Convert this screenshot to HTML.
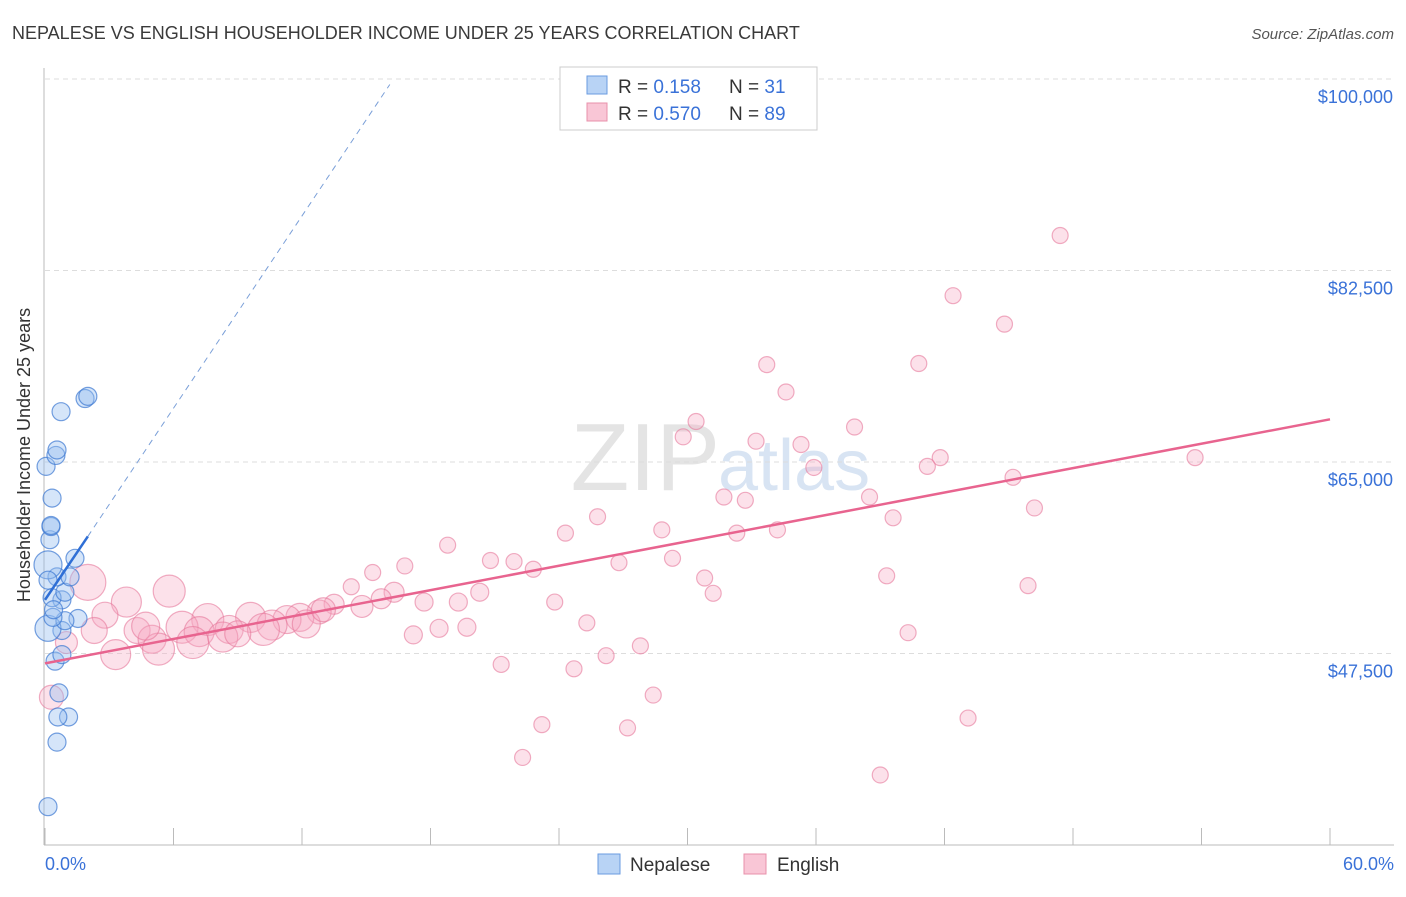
<!DOCTYPE html>
<html><head><meta charset="utf-8"><style>
body{margin:0;background:#fff;font-family:"Liberation Sans",sans-serif}
svg text{font-family:"Liberation Sans",sans-serif}
</style></head><body>
<svg id="c" width="1406" height="892">
<text x="12" y="39" font-size="18" fill="#3a3a3a">NEPALESE VS ENGLISH HOUSEHOLDER INCOME UNDER 25 YEARS CORRELATION CHART</text>
<text x="1394" y="39" font-size="15" fill="#555" text-anchor="end" font-style="italic">Source: ZipAtlas.com</text>
<text x="720" y="490" font-size="96" fill="#e4e4e4" text-anchor="end" font-family="Liberation Serif">ZIP</text>
<text x="718" y="490" font-size="72" fill="#d8e4f3">atlas</text>
<g id="grid"></g><g id="axes"></g><g id="pts"></g><g id="lines"></g>
<text x="30" y="455" font-size="18" fill="#333" text-anchor="middle" transform="rotate(-90 30 455)">Householder Income Under 25 years</text>
<text x="45" y="870" font-size="18" fill="#3a72d8">0.0%</text>
<text x="1394" y="870" font-size="18" fill="#3a72d8" text-anchor="end">60.0%</text>
<g>
<rect x="560" y="67" width="257" height="63" fill="#fff" stroke="#ccc"/>
<rect x="587" y="76" width="20" height="18" fill="#b8d3f5" stroke="#6a9be0"/>
<rect x="587" y="103" width="20" height="18" fill="#f9c6d6" stroke="#e890ab"/>
<text x="618" y="93" font-size="19" fill="#333">R = <tspan fill="#3a72d8">0.158</tspan><tspan x="729">N = </tspan><tspan fill="#3a72d8">31</tspan></text>
<text x="618" y="120" font-size="19" fill="#333">R = <tspan fill="#3a72d8">0.570</tspan><tspan x="729">N = </tspan><tspan fill="#3a72d8">89</tspan></text>
</g>
<g>
<rect x="598" y="854" width="22" height="20" fill="#b8d3f5" stroke="#6a9be0"/>
<text x="630" y="871" font-size="19" fill="#333">Nepalese</text>
<rect x="744" y="854" width="22" height="20" fill="#f9c6d6" stroke="#e890ab"/>
<text x="777" y="871" font-size="19" fill="#333">English</text>
</g>
</svg>
<script>
const yTicks=[47500,65000,82500,100000];
const yTickLabels=["$47,500","$65,000","$82,500","$100,000"];
const xTicks=[0,6,12,18,24,30,36,42,48,54,60];
const nepX=[0.14,0.56,1.1,0.6,0.65,0.47,0.79,0.79,0.14,1.54,0.93,0.37,0.79,0.33,0.93,0.56,1.17,0.14,1.4,0.23,0.28,0.28,0.33,0.05,0.51,0.56,0.75,1.87,2.0,0.14,0.4];
const nepY=[33.5,39.4,41.7,41.7,43.9,46.8,47.4,49.6,49.8,50.7,50.5,50.8,52.4,52.6,53.1,54.5,54.5,55.6,56.2,57.9,59.1,59.2,61.7,64.6,65.6,66.1,69.6,70.8,71.0,54.2,51.5];
const nepR=[9,9,9,9,9,9,9,9,13,9,9,9,9,9,9,9,9,14,9,9,9,9,9,9,9,9,9,9,9,9,9];
const engX=[47.4,42.4,44.8,40.8,33.7,34.6,30.4,37.8,29.8,33.2,35.3,41.8,41.2,35.9,53.7,45.2,31.7,38.5,32.7,46.2,39.6,25.8,28.8,34.2,24.3,32.3,18.8,29.3,20.8,21.9,26.8,16.8,22.8,15.3,30.8,39.3,45.9,14.3,31.2,5.8,2.0,16.3,15.7,20.3,19.3,17.7,23.8,3.8,13.5,14.8,2.8,12.8,11.9,11.3,7.6,9.6,10.6,25.3,18.4,19.7,4.3,6.4,8.6,10.2,2.3,7.2,17.2,40.3,5.0,6.9,8.3,1.0,27.8,5.3,3.3,26.2,21.3,24.7,28.4,0.3,43.1,23.2,27.2,22.3,39.0,12.2,9.0,13.0,4.7];
const engY=[85.7,80.2,77.6,74.0,73.9,71.4,68.7,68.2,67.3,66.9,66.6,65.4,64.6,64.5,65.4,63.6,61.8,61.8,61.5,60.8,59.9,60.0,58.8,58.8,58.5,58.5,57.4,56.2,56.0,55.9,55.8,55.5,55.2,54.9,54.4,54.6,53.7,53.6,53.0,53.2,54.0,53.1,52.5,53.1,52.2,52.2,52.2,52.2,52.0,51.8,51.0,51.3,50.8,50.6,50.6,50.8,50.1,50.3,49.8,49.9,49.6,49.9,49.7,49.7,49.6,49.5,49.2,49.4,48.8,48.5,49.0,48.5,48.2,47.9,47.4,47.3,46.5,46.1,43.7,43.5,41.6,41.0,40.7,38.0,36.4,50.2,49.3,51.5,50.0];
const engR=[8,8,8,8,8,8,8,8,8,8,8,8,8,8,8,8,8,8,8,8,8,8,8,8,8,8,8,8,8,8,8,8,8,8,8,8,8,8,8,16,18,10,10,9,9,9,8,15,10,11,13,12,14,14,16,15,15,8,9,9,13,16,14,16,13,15,9,8,14,16,15,11,8,16,15,8,8,8,8,12,8,8,8,8,8,14,13,12,14];
const pinkTrend=[[0,46.6],[60,68.9]];
const blueTrend=[[0,52.4],[2,58.2]];
const blueDash=[[2,58.2],[16.1,99.5]];
const NS="http://www.w3.org/2000/svg";
const X=v=>45+v/60*1285, Y=v=>79+(100-v)/17.5*191.5;
function mk(t,a,p){const e=document.createElementNS(NS,t);for(const k in a)e.setAttribute(k,a[k]);document.getElementById(p).appendChild(e);return e;}
yTicks.forEach((t,i)=>{
 const l=mk('line',{x1:45,x2:1394,y1:Y(t/1000),y2:Y(t/1000),stroke:'#ddd','stroke-dasharray':'5,4'},'grid');
 
 
 const tx=mk('text',{x:1393,y:Y(t/1000)+24,'font-size':18,fill:'#3a72d8','text-anchor':'end'},'grid');
 tx.textContent=yTickLabels[i];
 
 
});
let ax=mk('line',{x1:44,x2:44,y1:68,y2:845,stroke:'#bbb'},'axes');


ax=mk('line',{x1:44,x2:1394,y1:845,y2:845,stroke:'#bbb'},'axes');


xTicks.forEach(t=>{const l=mk('line',{x1:X(t),x2:X(t),y1:828,y2:845,stroke:'#bbb'},'axes');
 
 });
engX.forEach((x,i)=>{const c=mk('circle',{cx:X(x),cy:Y(engY[i]),r:engR[i],fill:'rgba(247,170,195,0.35)',stroke:'rgba(230,120,155,0.6)','stroke-width':1.2},'pts');
 
 });
nepX.forEach((x,i)=>{const c=mk('circle',{cx:X(x),cy:Y(nepY[i]),r:nepR[i],fill:'rgba(150,190,240,0.4)',stroke:'rgba(60,120,210,0.7)','stroke-width':1.2},'pts');
 
 });
let l=mk('line',{x1:X(pinkTrend[0][0]),y1:Y(pinkTrend[0][1]),x2:X(pinkTrend[1][0]),y2:Y(pinkTrend[1][1]),stroke:'#e8648f','stroke-width':2.5},'lines');


l=mk('line',{x1:X(blueDash[0][0]),y1:Y(blueDash[0][1]),x2:X(blueDash[1][0]),y2:Y(blueDash[1][1]),stroke:'#7a9fd8','stroke-width':1,'stroke-dasharray':'6,5'},'lines');


l=mk('line',{x1:X(blueTrend[0][0]),y1:Y(blueTrend[0][1]),x2:X(blueTrend[1][0]),y2:Y(blueTrend[1][1]),stroke:'#2f6fd6','stroke-width':2.5},'lines');


</script>
</body></html>
